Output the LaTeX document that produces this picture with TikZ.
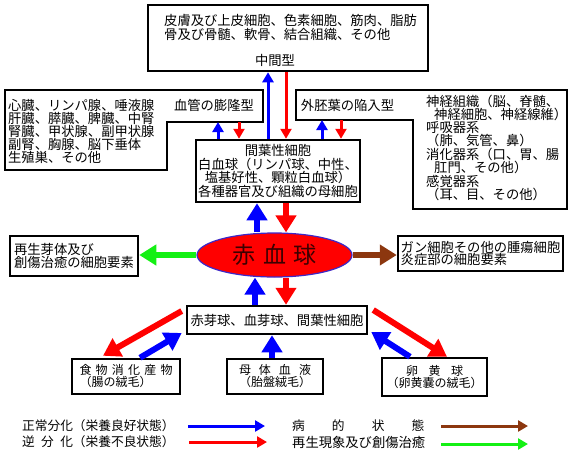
\documentclass[tikz,border=0pt]{standalone}
\usepackage{fontspec}
\setmainfont{Noto Sans CJK JP}
\usepackage{xcolor}
\usepackage{tikz}
\usetikzlibrary{arrows.meta,shapes.geometric}
\definecolor{nblue}{RGB}{0,0,255}
\definecolor{nred}{RGB}{255,0,0}
\definecolor{ngreen}{RGB}{20,240,20}
\definecolor{nbrown}{RGB}{140,55,15}
\definecolor{rbctext}{RGB}{60,0,0}
\definecolor{rbcline}{RGB}{60,40,200}
\newcommand{\jfont}{\fontsize{13.3pt}{12.5pt}\selectfont}
\newcommand{\legfont}{\fontsize{12.7pt}{12.5pt}\selectfont}
\newcommand{\smallj}{\fontsize{12pt}{12pt}\selectfont}

\begin{document}
\begin{tikzpicture}[x=1pt,y=-1pt,
		box/.style={draw, line width=2.5pt, inner sep=0pt},
		txt/.style={inner sep=0pt, font=\jfont, align=left},
		bigarr/.style={line width=6pt, -{Triangle[width=20pt,length=17pt]}},
		thinarr/.style={line width=3pt, -{Triangle[width=11pt,length=10pt]}}]
		\useasboundingbox (0,0) rectangle (570,453);

		%% Intermediate type
		\node[box, minimum width=280pt, minimum height=66pt] (mesotype) at (288,38) {};
		\node[txt, anchor=west, font=\fontsize{13.3pt}{11.7pt}\selectfont] (mesotext) at (164,27.5)
		{皮膚及び上皮細胞、色素細胞、筋肉、脂肪\\骨及び骨髄、軟骨、結合組織、その他};
		\node[txt] (mesolabel) at (275,60) {中間型};

		%% Vascular bulge type
		\draw[box] (5,90) -- (263,90) -- (263,122) coordinate (vstep) -- (167,122) -- (167,170) -- (5,170) -- cycle;
		\node[txt, anchor=west, font=\fontsize{13.3pt}{13pt}\selectfont] (vorgans) at (8,131)
		{心臓、リンパ腺、唾液腺\\肝臓、膵臓、脾臓、中腎\\腎臓、甲状腺、副甲状腺\\副腎、胸腺、脳下垂体\\生殖巣、その他};
		\node[txt] (vlabel) at (214,105) {血管の膨隆型};

		%% Ectoderm invagination type
		\draw[box] (296,90) -- (567,90) -- (567,209) -- (413,209) -- (413,120) -- (296,120) coordinate (estep) -- cycle;
		\node[txt] (elabel) at (347.5,105) {外胚葉の陥入型};
		\node[txt, anchor=west, font=\fontsize{13.3pt}{12.3pt}\selectfont] (eorgans) at (426,148)
		{神経組織（脳、脊髄、\\\hspace*{8pt}神経細胞、神経線維）\\呼吸器系\\（肺、気管、鼻）\\消化器系（口、胃、腸\\\hspace*{8pt}肛門、その他）\\感覚器系\\（耳、目、その他）};

		%% Mother cells
		\node[box, txt, align=center, minimum width=164pt, minimum height=62pt, font=\fontsize{13.3pt}{12.3pt}\selectfont] (stem) at (278,171)
		{間葉性細胞\\白血球（リンパ球、中性、\\塩基好性、顆粒白血球）\\各種器官及び組織の母細胞};

		%% Red blood cell
		\node[ellipse, draw=rbcline, fill=nred, line width=1.2pt, minimum width=155pt, minimum height=44pt, inner sep=0pt,
			text=rbctext, font=\fontsize{23pt}{23pt}\selectfont] (rbc) at (274.5,255) {\makebox[84pt]{赤\hfill{}血\hfill{}球}};
		\node[box, txt, minimum width=128pt, minimum height=40pt] (regen) at (74,256) {再生芽体及び\\創傷治癒の細胞要素};
		\node[box, txt, minimum width=165pt, minimum height=35pt] (tumor) at (480.5,253.5) {ガン細胞その他の腫瘍細胞\\炎症部の細胞要素};

		%% Sources
		\node[box, txt, minimum width=180pt, minimum height=28pt] (blast) at (277,320) {赤芽球、血芽球、間葉性細胞};
		\node[box, txt, minimum width=108pt, minimum height=35pt, font=\smallj] (food) at (126,376.5)
		{\makebox[93pt]{食\hfill{}物\hfill{}消\hfill{}化\hfill{}産\hfill{}物}\\（腸の絨毛）};
		\node[box, txt, minimum width=96pt, minimum height=35pt, font=\smallj] (mother) at (275,376.5)
		{\makebox[72pt]{母\hfill{}体\hfill{}血\hfill{}液}\\（胎盤絨毛）};
		\node[box, txt, align=center, minimum width=105pt, minimum height=38pt, font=\smallj] (yolk) at (434.5,377)
		{\makebox[57pt]{卵\hfill{}黄\hfill{}球}\\（卵黄嚢の絨毛）};

		% arrows above the mother cells
		\path (stem.north) ++(-10,0) coordinate (s1) ++(18,0) coordinate (s2);
		\draw[thinarr, nblue] (s1) -- (s1 |- mesotype.south);
		\draw[thinarr, nred] (s2 |- mesotype.south) -- (s2);
		\path (stem.north) ++(-60,0) coordinate (s3) ++(21,0) coordinate (s4);
		\draw[thinarr, nblue] (s3) -- (s3 |- vstep);
		\draw[thinarr, nred] (s4 |- vstep) -- (s4);
		\path (stem.north) ++(44,0) coordinate (s5) ++(19,0) coordinate (s6);
		\draw[thinarr, nblue] (s5) -- (s5 |- estep);
		\draw[thinarr, nred] (s6 |- estep) -- (s6);

		% arrows round the red blood cell
		\path (rbc.center) ++(-17.5,0) coordinate (r1) ++(29,0) coordinate (r2);
		\draw[bigarr, nblue] (r1 |- rbc.north) -- (r1 |- stem.south);
		\draw[bigarr, nred] (r2 |- stem.south) -- (r2 |- rbc.north);
		\path (blast.north) ++(-22,0) coordinate (b1) ++(31,0) coordinate (b2);
		\draw[bigarr, nblue] (b1) -- (b1 |- rbc.south);
		\draw[bigarr, nred] (b2 |- rbc.south) -- (b2);
		\draw[bigarr, ngreen] (rbc.west) -- (rbc.west -| regen.east);
		\draw[bigarr, nbrown] (rbc.east) -- (rbc.east -| tumor.west);

		% arrows from the sources
		\path (blast.west) ++(-4,-9) coordinate (d1) ++(0,22) coordinate (d2);
		\path (food.north) ++(-23,-2) coordinate (f1) ++(37,2) coordinate (f2);
		\draw[bigarr, nred] (d1) -- (f1);
		\draw[bigarr, nblue] (f2) -- (d2);
		\path (mother.north) ++(-3,0) coordinate (m1);
		\draw[bigarr, nblue] (m1) -- (m1 |- blast.south);
		\path (blast.east) ++(5,-10) coordinate (d3) ++(-2,22) coordinate (d4);
		\path (yolk.north) ++(12.5,0) coordinate (y1) ++(-37,0) coordinate (y2);
		\draw[bigarr, nred] (d3) -- (y1);
		\draw[bigarr, nblue] (y2) -- (d4);

		%% Legend
		\node[txt, anchor=west, font=\legfont] (normal) at (22,426) {正常分化（栄養良好状態）};
		\node[txt, anchor=west, font=\legfont] (reverse) at (22,442) {\makebox[4em]{逆\hfill{}分\hfill{}化}（栄養不良状態）};
		\node[txt, anchor=west, font=\legfont] (disease) at (292,426) {\makebox[10.4em]{病\hfill{}的\hfill{}状\hfill{}態}};
		\node[txt, anchor=west, font=\jfont] (regrow) at (292,442) {再生現象及び創傷治癒};
		\coordinate (l1) at (188,426); \coordinate (l2) at (265,426);
		\coordinate (l3) at (189,442); \coordinate (l4) at (267,442);
		\coordinate (l5) at (441,426); \coordinate (l6) at (528,426);
		\coordinate (l7) at (441,444); \coordinate (l8) at (528,444);
		\draw[thinarr, nblue] (l1) -- (l2);
		\draw[thinarr, nred] (l3) -- (l4);
		\draw[thinarr, nbrown] (l5) -- (l6);
		\draw[thinarr, ngreen] (l7) -- (l8);
	\end{tikzpicture}
\end{document}
